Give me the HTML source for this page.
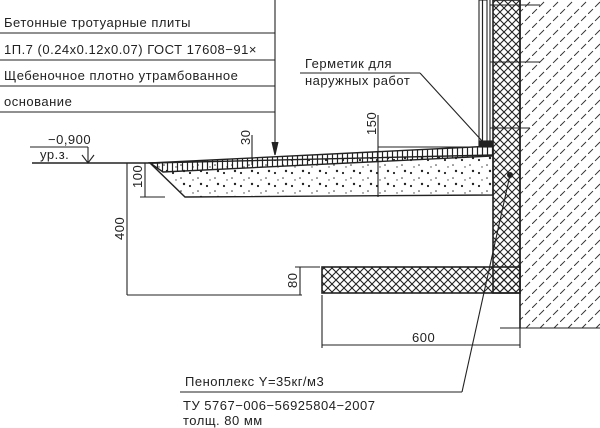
<!DOCTYPE html>
<html><head><meta charset="utf-8"><style>
html,body{margin:0;padding:0;background:#fff;width:600px;height:428px;overflow:hidden}
text{font-family:"Liberation Sans","DejaVu Sans",sans-serif;font-size:13px;fill:#222;letter-spacing:0.5px}
</style></head><body>
<svg width="600" height="428" viewBox="0 0 600 428" xmlns="http://www.w3.org/2000/svg">
<defs>
<pattern id="cross" width="8" height="8" patternUnits="userSpaceOnUse">
<path d="M0 0L8 8M8 0L0 8" stroke="#222" stroke-width="1.1"/></pattern>
<pattern id="diag" width="14" height="14" patternUnits="userSpaceOnUse">
<path d="M0 14L14 0" stroke="#333" stroke-width="1" stroke-dasharray="7 3"/></pattern>
<pattern id="brick" width="5" height="10" patternUnits="userSpaceOnUse">
<path d="M2.5 0V10" stroke="#222" stroke-width="1.2"/></pattern>
<pattern id="dots" width="17" height="13" patternUnits="userSpaceOnUse">
<circle cx="3" cy="4" r="1.1" fill="#222"/><circle cx="11" cy="9" r="0.8" fill="#333"/><circle cx="14" cy="2" r="1.2" fill="#222"/><circle cx="6" cy="11" r="0.7" fill="#444"/></pattern>
</defs>
<g stroke="#222" fill="none" stroke-width="1.1">
<line x1="0" y1="33" x2="275" y2="33"/><line x1="0" y1="60" x2="275" y2="60"/>
<line x1="0" y1="86" x2="275" y2="86"/><line x1="0" y1="112" x2="275" y2="112"/>
<line x1="275" y1="0" x2="275" y2="155"/>
<path d="M272 142L275 155L278 142" fill="#222"/>
<line x1="32" y1="163" x2="160" y2="163" stroke-width="1.6"/>
<line x1="30" y1="147" x2="88" y2="147"/><line x1="88" y1="147" x2="88" y2="163"/>
<path d="M82 155L88 163L94 155"/>
<rect x="520" y="0" width="80" height="328" fill="url(#diag)" stroke="none"/>
<line x1="520" y1="0" x2="520" y2="328" stroke-width="1.6"/>
<line x1="500" y1="328" x2="600" y2="328"/>
<rect x="493" y="0" width="27" height="293" fill="url(#cross)" stroke="#222" stroke-width="1.6"/>
<rect x="322" y="267" width="198" height="26" fill="url(#cross)" stroke="#222" stroke-width="1.6"/>
<rect x="479" y="0" width="8" height="146" fill="url(#brick)" stroke="#222"/>
<line x1="490" y1="0" x2="490" y2="146"/>
<line x1="490" y1="5" x2="540" y2="5"/><line x1="490" y1="62" x2="540" y2="62"/><line x1="490" y1="128" x2="530" y2="128"/>
<rect x="479" y="141" width="14" height="6" fill="#222"/>
<path d="M150 163L493 155L493 195L185 197Z" fill="url(#dots)" stroke-width="1.4"/>
<path d="M150 163L493 146L493 156L163 172Z" fill="url(#brick)" stroke-width="1.4"/>
<line x1="127" y1="163" x2="127" y2="295"/><line x1="127" y1="295" x2="302" y2="295"/>
<line x1="145" y1="163" x2="145" y2="197"/><line x1="140" y1="197" x2="165" y2="197"/>
<line x1="300" y1="267" x2="300" y2="295"/><line x1="295" y1="267" x2="320" y2="267"/>
<line x1="322" y1="295" x2="322" y2="348"/><line x1="520" y1="293" x2="520" y2="348"/>
<line x1="322" y1="345" x2="520" y2="345"/>
<line x1="378" y1="115" x2="378" y2="197"/><line x1="378" y1="147" x2="480" y2="147"/>
<line x1="252" y1="135" x2="252" y2="165"/>
<line x1="300" y1="73" x2="420" y2="73"/><line x1="420" y1="73" x2="483" y2="142"/>
<line x1="180" y1="392" x2="462" y2="392"/><line x1="462" y1="392" x2="510" y2="175"/>
</g>
<circle cx="510" cy="175" r="3" fill="#222"/>
<text x="4" y="27">Бетонные тротуарные плиты</text>
<text x="4" y="54">1П.7 (0.24x0.12x0.07) ГОСТ 17608−91×</text>
<text x="4" y="80">Щебеночное плотно утрамбованное</text>
<text x="4" y="106">основание</text>
<text x="48" y="144">−0,900</text>
<text x="40" y="159" font-size="12">ур.з.</text>
<text x="305" y="68">Герметик для</text>
<text x="305" y="85">наружных работ</text>
<text x="185" y="386">Пеноплекс Y=35кг/м3</text>
<text x="183" y="410">ТУ 5767−006−56925804−2007</text>
<text x="183" y="425">толщ. 80 мм</text>
<text x="412" y="342" font-size="12">600</text>
<g font-size="11">
<text transform="translate(124,240) rotate(-90)">400</text>
<text transform="translate(142,188) rotate(-90)">100</text>
<text transform="translate(297,288) rotate(-90)">80</text>
<text transform="translate(376,135) rotate(-90)">150</text>
<text transform="translate(250,145) rotate(-90)">30</text>
</g>
</svg>
</body></html>
